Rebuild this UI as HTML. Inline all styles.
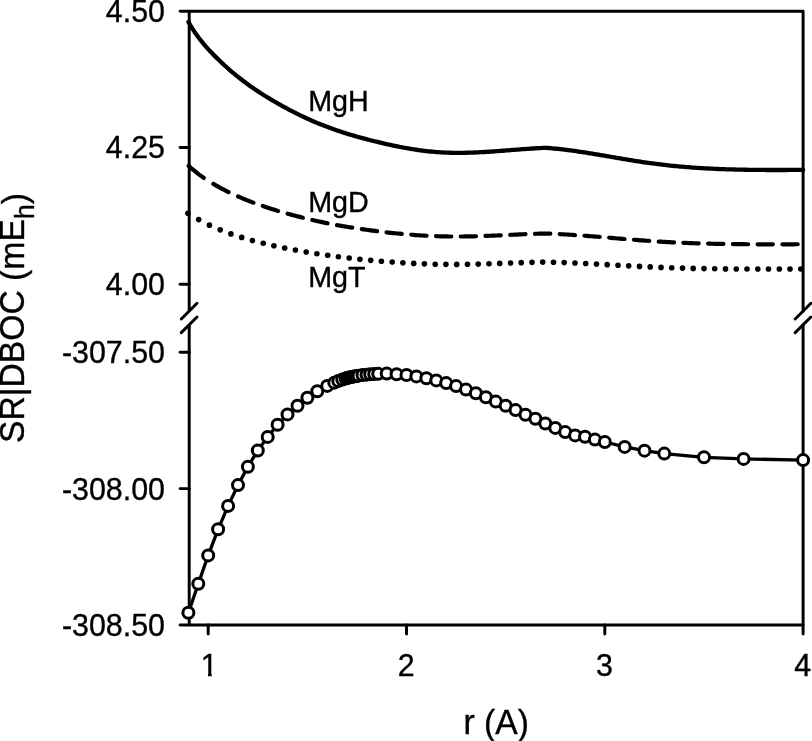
<!DOCTYPE html>
<html lang="en">
<head>
<meta charset="utf-8">
<title>SR|DBOC (mEh) vs r (A)</title>
<style>
html,body{margin:0;padding:0;background:#fff;}
body{width:812px;height:741px;overflow:hidden;font-family:"Liberation Sans",Arial,sans-serif;}
svg{display:block;}
</style>
</head>
<body>
<svg width="812" height="741" viewBox="0 0 812 741">
<rect width="812" height="741" fill="#fff"/>
<g fill="none" stroke="#000" stroke-width="2.95" stroke-linecap="round">
<path d="M180.1 11.2H803.1V311.2" stroke-linejoin="round"/>
<path d="M803.1 325.0V625.0H180.1" stroke-linejoin="round"/>
<path d="M189.2 11.2V311.2M189.2 325.0V625.0" stroke-linecap="butt"/>
<path d="M181.3 319.0L197.0 303.3M181.3 332.6L197.0 317.0"/>
<path d="M795.2 319.0L810.9 303.3M795.2 332.6L810.9 317.0"/>
<path d="M180.1 147.5H189.2"/>
<path d="M180.1 284.3H189.2"/>
<path d="M180.1 352.3H189.2"/>
<path d="M180.1 488.6H189.2"/>
<path d="M208.2 625.0V634.0"/>
<path d="M406.5 625.0V634.0"/>
<path d="M604.8 625.0V634.0"/>
<path d="M803.1 625.0V634.0"/>
</g>
<path d="M188.4 22.00L190.4 25.40L192.4 28.61L194.4 31.66L196.4 34.56L198.4 37.32L200.4 39.94L202.4 42.44L204.4 44.84L206.4 47.14L208.4 49.36L210.4 51.50L212.4 53.59L214.4 55.62L216.4 57.61L218.4 59.57L220.4 61.49L222.4 63.37L224.4 65.22L226.4 67.03L228.4 68.81L230.4 70.55L232.4 72.26L234.4 73.93L236.4 75.57L238.4 77.18L240.4 78.76L242.4 80.30L244.4 81.81L246.4 83.30L248.4 84.75L250.4 86.18L252.4 87.58L254.4 88.95L256.4 90.30L258.4 91.63L260.4 92.93L262.4 94.21L264.4 95.47L266.4 96.71L268.4 97.93L270.4 99.14L272.4 100.32L274.4 101.49L276.4 102.65L278.4 103.79L280.4 104.92L282.4 106.03L284.4 107.13L286.4 108.22L288.4 109.29L290.4 110.34L292.4 111.38L294.4 112.41L296.4 113.42L298.4 114.41L300.4 115.39L302.4 116.35L304.4 117.30L306.4 118.23L308.4 119.14L310.4 120.04L312.4 120.92L314.4 121.78L316.4 122.63L318.4 123.46L320.4 124.27L322.4 125.07L324.4 125.85L326.4 126.61L328.4 127.36L330.4 128.10L332.4 128.82L334.4 129.52L336.4 130.22L338.4 130.89L340.4 131.56L342.4 132.21L344.4 132.85L346.4 133.48L348.4 134.10L350.4 134.71L352.4 135.30L354.4 135.89L356.4 136.46L358.4 137.02L360.4 137.58L362.4 138.12L364.4 138.66L366.4 139.19L368.4 139.71L370.4 140.22L372.4 140.72L374.4 141.22L376.4 141.71L378.4 142.20L380.4 142.67L382.4 143.14L384.4 143.61L386.4 144.06L388.4 144.51L390.4 144.95L392.4 145.38L394.4 145.80L396.4 146.21L398.4 146.61L400.4 147.00L402.4 147.39L404.4 147.76L406.4 148.12L408.4 148.47L410.4 148.81L412.4 149.13L414.4 149.45L416.4 149.75L418.4 150.04L420.4 150.32L422.4 150.58L424.4 150.83L426.4 151.07L428.4 151.29L430.4 151.50L432.4 151.69L434.4 151.87L436.4 152.03L438.4 152.18L440.4 152.31L442.4 152.43L444.4 152.53L446.4 152.61L448.4 152.68L450.4 152.74L452.4 152.78L454.4 152.81L456.4 152.83L458.4 152.83L460.4 152.83L462.4 152.81L464.4 152.78L466.4 152.74L468.4 152.69L470.4 152.63L472.4 152.56L474.4 152.49L476.4 152.40L478.4 152.31L480.4 152.21L482.4 152.10L484.4 151.99L486.4 151.87L488.4 151.74L490.4 151.61L492.4 151.48L494.4 151.34L496.4 151.20L498.4 151.05L500.4 150.91L502.4 150.75L504.4 150.60L506.4 150.45L508.4 150.29L510.4 150.14L512.4 149.98L514.4 149.83L516.4 149.67L518.4 149.52L520.4 149.37L522.4 149.22L524.4 149.07L526.4 148.93L528.4 148.79L530.4 148.65L532.4 148.52L534.4 148.39L536.4 148.27L538.4 148.15L540.4 148.04L542.4 147.94L544.4 147.85L546.4 147.86L548.4 148.01L550.4 148.18L552.4 148.36L554.4 148.54L556.4 148.74L558.4 148.95L560.4 149.17L562.4 149.40L564.4 149.64L566.4 149.88L568.4 150.14L570.4 150.40L572.4 150.67L574.4 150.95L576.4 151.23L578.4 151.52L580.4 151.82L582.4 152.12L584.4 152.43L586.4 152.74L588.4 153.06L590.4 153.38L592.4 153.71L594.4 154.04L596.4 154.37L598.4 154.70L600.4 155.04L602.4 155.38L604.4 155.72L606.4 156.06L608.4 156.41L610.4 156.75L612.4 157.10L614.4 157.44L616.4 157.78L618.4 158.13L620.4 158.47L622.4 158.81L624.4 159.15L626.4 159.48L628.4 159.81L630.4 160.14L632.4 160.47L634.4 160.79L636.4 161.11L638.4 161.42L640.4 161.73L642.4 162.04L644.4 162.33L646.4 162.62L648.4 162.91L650.4 163.19L652.4 163.46L654.4 163.72L656.4 163.98L658.4 164.23L660.4 164.47L662.4 164.71L664.4 164.94L666.4 165.16L668.4 165.38L670.4 165.59L672.4 165.80L674.4 166.00L676.4 166.19L678.4 166.37L680.4 166.55L682.4 166.73L684.4 166.90L686.4 167.06L688.4 167.22L690.4 167.37L692.4 167.52L694.4 167.66L696.4 167.79L698.4 167.93L700.4 168.05L702.4 168.17L704.4 168.29L706.4 168.40L708.4 168.51L710.4 168.61L712.4 168.71L714.4 168.80L716.4 168.89L718.4 168.98L720.4 169.06L722.4 169.13L724.4 169.21L726.4 169.28L728.4 169.34L730.4 169.40L732.4 169.46L734.4 169.51L736.4 169.56L738.4 169.61L740.4 169.66L742.4 169.70L744.4 169.74L746.4 169.77L748.4 169.80L750.4 169.83L752.4 169.86L754.4 169.88L756.4 169.90L758.4 169.92L760.4 169.94L762.4 169.95L764.4 169.97L766.4 169.98L768.4 169.98L770.4 169.99L772.4 169.99L774.4 170.00L776.4 170.00L778.4 170.00L780.4 170.00L782.4 169.99L784.4 169.99L786.4 169.98L788.4 169.97L790.4 169.97L792.4 169.96L794.4 169.95L796.4 169.93L798.4 169.92L800.4 169.91L803.1 169.89" fill="none" stroke="#000" stroke-width="4.3" stroke-linecap="round" stroke-linejoin="round"/>
<g fill="none" stroke="#000" stroke-width="4.2" stroke-linecap="round" stroke-linejoin="round">
<path d="M188.6 165.83L190.8 167.79L193.0 169.66L195.2 171.46L197.3 173.17L199.5 174.82L201.7 176.40L203.9 177.92"/>
<path d="M213.3 183.89L215.5 185.16L217.7 186.40L219.9 187.60L222.1 188.78L224.3 189.92L226.5 191.03L228.6 192.11"/>
<path d="M238.1 196.48L240.3 197.43L242.5 198.35L244.6 199.26L246.8 200.14L249.0 201.00L251.2 201.84L253.4 202.67"/>
<path d="M262.8 206.03L265.0 206.77L267.2 207.49L269.4 208.20L271.6 208.90L273.7 209.58L275.9 210.26L278.1 210.92"/>
<path d="M287.6 213.66L289.7 214.26L291.9 214.86L294.1 215.45L296.3 216.03L298.5 216.60L300.7 217.16L302.9 217.71"/>
<path d="M312.3 219.97L314.5 220.47L316.7 220.96L318.9 221.44L321.0 221.91L323.2 222.37L325.4 222.82L327.6 223.26"/>
<path d="M337.0 225.06L339.2 225.46L341.4 225.85L343.6 226.23L345.8 226.60L348.0 226.97L350.2 227.32L352.3 227.67"/>
<path d="M361.8 229.11L364.0 229.42L366.2 229.73L368.3 230.03L370.5 230.33L372.7 230.62L374.9 230.90L377.1 231.18"/>
<path d="M386.5 232.32L388.7 232.57L390.9 232.81L393.1 233.04L395.3 233.27L397.4 233.49L399.6 233.71L401.8 233.92"/>
<path d="M411.3 234.73L413.4 234.90L415.6 235.06L417.8 235.22L420.0 235.36L422.2 235.50L424.4 235.63L426.6 235.75"/>
<path d="M436.0 236.18L438.2 236.26L440.4 236.32L442.6 236.38L444.7 236.43L446.9 236.47L449.1 236.50L451.3 236.52"/>
<path d="M460.7 236.52L462.9 236.50L465.1 236.47L467.3 236.43L469.5 236.39L471.7 236.34L473.9 236.29L476.0 236.23"/>
<path d="M485.5 235.92L487.7 235.84L489.9 235.75L492.0 235.66L494.2 235.57L496.4 235.48L498.6 235.38L500.8 235.28"/>
<path d="M510.2 234.85L512.4 234.75L514.6 234.65L516.8 234.55L519.0 234.46L521.1 234.36L523.3 234.27L525.5 234.18"/>
<path d="M535.0 233.82L537.1 233.75L539.3 233.68L541.5 233.61L543.7 233.56L545.9 233.52L548.1 233.60L550.3 233.69"/>
<path d="M559.7 234.13L561.9 234.25L564.1 234.37L566.3 234.50L568.4 234.63L570.6 234.77L572.8 234.91L575.0 235.06"/>
<path d="M584.4 235.74L586.6 235.90L588.8 236.07L591.0 236.24L593.2 236.41L595.4 236.59L597.6 236.77L599.7 236.94"/>
<path d="M609.2 237.73L611.4 237.91L613.6 238.10L615.7 238.28L617.9 238.47L620.1 238.65L622.3 238.83L624.5 239.01"/>
<path d="M633.9 239.78L636.1 239.95L638.3 240.12L640.5 240.29L642.7 240.46L644.8 240.62L647.0 240.78L649.2 240.93"/>
<path d="M658.7 241.56L660.8 241.69L663.0 241.82L665.2 241.94L667.4 242.07L669.6 242.18L671.8 242.30L674.0 242.41"/>
<path d="M683.4 242.83L685.6 242.92L687.8 243.01L690.0 243.09L692.1 243.17L694.3 243.25L696.5 243.32L698.7 243.39"/>
<path d="M708.1 243.65L710.3 243.70L712.5 243.76L714.7 243.80L716.9 243.85L719.1 243.89L721.3 243.93L723.4 243.97"/>
<path d="M732.9 244.11L735.1 244.13L737.3 244.15L739.4 244.18L741.6 244.20L743.8 244.21L746.0 244.23L748.2 244.25"/>
<path d="M757.6 244.29L759.8 244.30L762.0 244.30L764.2 244.31L766.4 244.31L768.5 244.31L770.7 244.31L772.9 244.31"/>
<path d="M782.4 244.30L784.5 244.30L786.7 244.29L788.9 244.29L791.1 244.28L793.3 244.28L795.5 244.27L797.7 244.26"/>
</g>
<g fill="#000">
<circle cx="187.9" cy="213.21" r="2.8"/>
<circle cx="198.7" cy="219.62" r="2.8"/>
<circle cx="209.4" cy="225.14" r="2.8"/>
<circle cx="220.2" cy="229.85" r="2.8"/>
<circle cx="230.9" cy="233.89" r="2.8"/>
<circle cx="241.7" cy="237.40" r="2.8"/>
<circle cx="252.4" cy="240.49" r="2.8"/>
<circle cx="263.2" cy="243.25" r="2.8"/>
<circle cx="273.9" cy="245.73" r="2.8"/>
<circle cx="284.7" cy="247.98" r="2.8"/>
<circle cx="295.4" cy="250.04" r="2.8"/>
<circle cx="306.2" cy="251.95" r="2.8"/>
<circle cx="316.9" cy="253.70" r="2.8"/>
<circle cx="327.7" cy="255.29" r="2.8"/>
<circle cx="338.4" cy="256.75" r="2.8"/>
<circle cx="349.2" cy="258.07" r="2.8"/>
<circle cx="359.9" cy="259.26" r="2.8"/>
<circle cx="370.7" cy="260.33" r="2.8"/>
<circle cx="381.4" cy="261.28" r="2.8"/>
<circle cx="392.2" cy="262.11" r="2.8"/>
<circle cx="402.9" cy="262.83" r="2.8"/>
<circle cx="413.7" cy="263.41" r="2.8"/>
<circle cx="424.4" cy="263.87" r="2.8"/>
<circle cx="435.2" cy="264.19" r="2.8"/>
<circle cx="445.9" cy="264.37" r="2.8"/>
<circle cx="456.7" cy="264.40" r="2.8"/>
<circle cx="467.5" cy="264.30" r="2.8"/>
<circle cx="478.2" cy="264.08" r="2.8"/>
<circle cx="489.0" cy="263.77" r="2.8"/>
<circle cx="499.7" cy="263.42" r="2.8"/>
<circle cx="510.5" cy="263.04" r="2.8"/>
<circle cx="521.2" cy="262.67" r="2.8"/>
<circle cx="532.0" cy="262.35" r="2.8"/>
<circle cx="542.7" cy="262.10" r="2.8"/>
<circle cx="553.5" cy="262.24" r="2.8"/>
<circle cx="564.2" cy="262.60" r="2.8"/>
<circle cx="575.0" cy="263.03" r="2.8"/>
<circle cx="585.7" cy="263.53" r="2.8"/>
<circle cx="596.5" cy="264.08" r="2.8"/>
<circle cx="607.2" cy="264.65" r="2.8"/>
<circle cx="618.0" cy="265.24" r="2.8"/>
<circle cx="628.7" cy="265.83" r="2.8"/>
<circle cx="639.5" cy="266.39" r="2.8"/>
<circle cx="650.2" cy="266.91" r="2.8"/>
<circle cx="661.0" cy="267.38" r="2.8"/>
<circle cx="671.7" cy="267.78" r="2.8"/>
<circle cx="682.5" cy="268.12" r="2.8"/>
<circle cx="693.2" cy="268.39" r="2.8"/>
<circle cx="704.0" cy="268.60" r="2.8"/>
<circle cx="714.7" cy="268.77" r="2.8"/>
<circle cx="725.5" cy="268.89" r="2.8"/>
<circle cx="736.3" cy="268.97" r="2.8"/>
<circle cx="747.0" cy="269.02" r="2.8"/>
<circle cx="757.8" cy="269.05" r="2.8"/>
<circle cx="768.5" cy="269.05" r="2.8"/>
<circle cx="779.3" cy="269.04" r="2.8"/>
<circle cx="790.0" cy="269.03" r="2.8"/>
<circle cx="800.8" cy="269.00" r="2.8"/>
</g>
<path d="M188.4 612.80L198.3 583.80L208.2 555.40L218.1 529.30L228.1 505.90L238.0 485.10L247.9 466.70L257.8 450.50L267.7 436.90L277.6 424.80L287.5 414.40L297.5 405.70L307.4 397.70L317.3 391.20L327.2 385.90L334.3 382.63L338.3 381.04L342.3 379.59L345.7 378.49L347.0 378.10L349.0 377.58L351.0 377.10L353.0 376.65L355.0 376.25L357.0 375.90L358.5 375.65L362.5 375.08L366.5 374.64L370.2 374.31L374.2 374.03L378.2 373.84L386.7 373.60L396.6 374.20L406.5 375.00L416.4 376.40L426.4 378.20L436.3 380.40L446.2 383.10L456.1 386.10L466.0 389.60L475.9 393.20L485.9 397.20L495.8 401.60L505.7 405.80L515.6 410.10L525.5 414.70L535.4 418.80L545.3 423.50L555.3 427.90L565.2 432.10L575.1 435.40L585.0 436.80L594.9 439.60L604.8 442.00L624.7 446.90L644.5 450.65L664.3 453.60L704.0 457.30L743.6 458.90L803.1 460.10" fill="none" stroke="#000" stroke-width="3.3" stroke-linejoin="round"/>
<g fill="#fff" stroke="#000" stroke-width="3.0">
<circle cx="188.4" cy="612.80" r="5.5"/>
<circle cx="198.3" cy="583.80" r="5.5"/>
<circle cx="208.2" cy="555.40" r="5.5"/>
<circle cx="218.1" cy="529.30" r="5.5"/>
<circle cx="228.1" cy="505.90" r="5.5"/>
<circle cx="238.0" cy="485.10" r="5.5"/>
<circle cx="247.9" cy="466.70" r="5.5"/>
<circle cx="257.8" cy="450.50" r="5.5"/>
<circle cx="267.7" cy="436.90" r="5.5"/>
<circle cx="277.6" cy="424.80" r="5.5"/>
<circle cx="287.5" cy="414.40" r="5.5"/>
<circle cx="297.5" cy="405.70" r="5.5"/>
<circle cx="307.4" cy="397.70" r="5.5"/>
<circle cx="317.3" cy="391.20" r="5.5"/>
<circle cx="327.2" cy="385.90" r="5.5"/>
<circle cx="334.3" cy="382.63" r="5.5"/>
<circle cx="338.3" cy="381.04" r="5.5"/>
<circle cx="342.3" cy="379.59" r="5.5"/>
<circle cx="345.7" cy="378.49" r="5.5"/>
<circle cx="347.0" cy="378.10" r="5.5"/>
<circle cx="349.0" cy="377.58" r="5.5"/>
<circle cx="351.0" cy="377.10" r="5.5"/>
<circle cx="353.0" cy="376.65" r="5.5"/>
<circle cx="355.0" cy="376.25" r="5.5"/>
<circle cx="357.0" cy="375.90" r="5.5"/>
<circle cx="358.5" cy="375.65" r="5.5"/>
<circle cx="362.5" cy="375.08" r="5.5"/>
<circle cx="366.5" cy="374.64" r="5.5"/>
<circle cx="370.2" cy="374.31" r="5.5"/>
<circle cx="374.2" cy="374.03" r="5.5"/>
<circle cx="378.2" cy="373.84" r="5.5"/>
<circle cx="386.7" cy="373.60" r="5.5"/>
<circle cx="396.6" cy="374.20" r="5.5"/>
<circle cx="406.5" cy="375.00" r="5.5"/>
<circle cx="416.4" cy="376.40" r="5.5"/>
<circle cx="426.4" cy="378.20" r="5.5"/>
<circle cx="436.3" cy="380.40" r="5.5"/>
<circle cx="446.2" cy="383.10" r="5.5"/>
<circle cx="456.1" cy="386.10" r="5.5"/>
<circle cx="466.0" cy="389.60" r="5.5"/>
<circle cx="475.9" cy="393.20" r="5.5"/>
<circle cx="485.9" cy="397.20" r="5.5"/>
<circle cx="495.8" cy="401.60" r="5.5"/>
<circle cx="505.7" cy="405.80" r="5.5"/>
<circle cx="515.6" cy="410.10" r="5.5"/>
<circle cx="525.5" cy="414.70" r="5.5"/>
<circle cx="535.4" cy="418.80" r="5.5"/>
<circle cx="545.3" cy="423.50" r="5.5"/>
<circle cx="555.3" cy="427.90" r="5.5"/>
<circle cx="565.2" cy="432.10" r="5.5"/>
<circle cx="575.1" cy="435.40" r="5.5"/>
<circle cx="585.0" cy="436.80" r="5.5"/>
<circle cx="594.9" cy="439.60" r="5.5"/>
<circle cx="604.8" cy="442.00" r="5.5"/>
<circle cx="624.7" cy="446.90" r="5.5"/>
<circle cx="644.5" cy="450.65" r="5.5"/>
<circle cx="664.3" cy="453.60" r="5.5"/>
<circle cx="704.0" cy="457.30" r="5.5"/>
<circle cx="743.6" cy="458.90" r="5.5"/>
<circle cx="803.1" cy="460.10" r="5.5"/>
</g>
<g font-family="'Liberation Sans', Arial, sans-serif" fill="#000" stroke="#000" stroke-width="0.35">
<text transform="translate(165.0 22.1) scale(1 1.041)" font-size="30.4" text-anchor="end">4.50</text>
<text transform="translate(165.0 158.4) scale(1 1.041)" font-size="30.4" text-anchor="end">4.25</text>
<text transform="translate(165.0 295.2) scale(1 1.041)" font-size="30.4" text-anchor="end">4.00</text>
<text transform="translate(165.0 363.2) scale(1 1.041)" font-size="30.4" text-anchor="end">-307.50</text>
<text transform="translate(165.0 499.5) scale(1 1.041)" font-size="30.4" text-anchor="end">-308.00</text>
<text transform="translate(165.0 635.9) scale(1 1.041)" font-size="30.4" text-anchor="end">-308.50</text>
<clipPath id="one"><path d="M190 640H230V672.54H211.71V690H208.02V672.54H190Z"/></clipPath>
<g clip-path="url(#one)"><text transform="translate(209.3 675.5) scale(1 1.041)" font-size="30.4" text-anchor="middle">1</text></g>
<text transform="translate(406.2 675.5) scale(1 1.041)" font-size="30.4" text-anchor="middle">2</text>
<text transform="translate(604.5 675.5) scale(1 1.041)" font-size="30.4" text-anchor="middle">3</text>
<text transform="translate(802.8 675.5) scale(1 1.041)" font-size="30.4" text-anchor="middle">4</text>
<text transform="translate(308.2 110.6) scale(1 1.041)" font-size="28.7" text-anchor="start">MgH</text>
<text transform="translate(308.2 211.6) scale(1 1.041)" font-size="28.7" text-anchor="start">MgD</text>
<text transform="translate(308.2 286.8) scale(1 1.041)" font-size="28.7" text-anchor="start">MgT</text>
<text transform="translate(496.2 733.7) scale(1 1.041)" font-size="33.7" text-anchor="middle">r <tspan dy="0.9">(</tspan><tspan dy="-0.9">A</tspan><tspan dy="0.9">)</tspan></text>
<text transform="translate(24.3 318) rotate(-90) scale(1 1.041)" font-size="33.7" text-anchor="middle">SR|DBOC <tspan dy="0.9">(</tspan><tspan dy="-0.9">mE</tspan><tspan font-size="27" dy="9.3">h</tspan><tspan dy="-6.80">)</tspan></text>
</g>
</svg>
</body>
</html>
